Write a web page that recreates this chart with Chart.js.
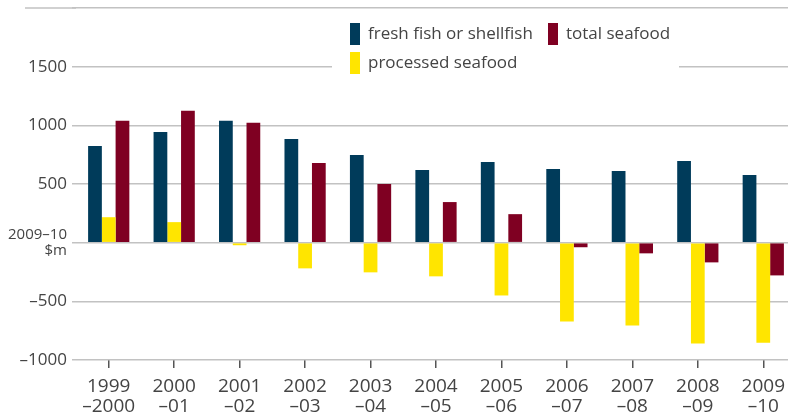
<!DOCTYPE html>
<html>
<head>
<meta charset="utf-8">
<script src="https://cdn.jsdelivr.net/npm/chart.js@4.4.1/dist/chart.umd.min.js"></script>
<style>
html,body{margin:0;padding:0;background:#fff;overflow:hidden}
canvas{display:block}
</style>
</head>
<body>
<canvas id="c" width="796" height="415"></canvas>
<script>
// financial years, two-line labels
const years = [
  ["1999","–2000"],["2000","–01"],["2001","–02"],["2002","–03"],["2003","–04"],
  ["2004","–05"],["2005","–06"],["2006","–07"],["2007","–08"],["2008","–09"],["2009","–10"]
];
// 2009–10 $m
const fresh = [824, 944, 1038, 884, 748, 619, 688, 628, 611, 696, 576];
const processed = [217, 175, -22, -219, -253, -287, -450, -672, -706, -860, -852];
const total = [1038, 1124, 1021, 679, 500, 346, 243, -39, -91, -168, -279];
const yTicks = [-1000, -500, 0, 500, 1000, 1500, 2000];
const yUnit = ["2009–10", "$m"];

const FONT = "'Open Sans', 'Noto Sans', sans-serif";
const TEXT = "#444";
const GRID = "#c2c2c2";

const extras = {
  id: "extras",
  beforeDatasetsDraw(chart){
    const ctx = chart.ctx, y = chart.scales.y;
    ctx.save();
    // legend box hides the 1500 line
    ctx.fillStyle = "#fff";
    ctx.fillRect(332, 14, 347, 68);
    // top rule runs further left
    const yt = y.getPixelForValue(2000);
    ctx.strokeStyle = GRID;
    ctx.lineWidth = 1.5;
    ctx.beginPath();
    ctx.moveTo(25, yt);
    ctx.lineTo(chart.chartArea.left, yt);
    ctx.stroke();
    ctx.restore();
  },
  afterDraw(chart){
    const ctx = chart.ctx, ds = chart.data.datasets;
    const items = [[0, 350, 34], [2, 548, 34], [1, 350, 63]];
    ctx.save();
    ctx.font = "17px " + FONT;
    ctx.textBaseline = "middle";
    for (const [i, x, y] of items) {
      ctx.fillStyle = ds[i].backgroundColor;
      ctx.fillRect(x, y - 11, 10, 22);
      ctx.fillStyle = TEXT;
      ctx.fillText(ds[i].label, x + 18, y);
    }
    ctx.restore();
  }
};

new Chart(document.getElementById("c"), {
  type: "bar",
  data: {
    labels: years,
    datasets: [
      { label: "fresh fish or shellfish", data: fresh, backgroundColor: "#003b5a" },
      { label: "processed seafood", data: processed, backgroundColor: "#ffe500" },
      { label: "total seafood", data: total, backgroundColor: "#7f0022" }
    ]
  },
  options: {
    responsive: false,
    devicePixelRatio: 1,
    animation: false,
    layout: { padding: { top: 8, left: 0, right: 0, bottom: 0 } },
    datasets: { bar: { categoryPercentage: 0.63, barPercentage: 1, borderWidth: 0 } },
    plugins: { legend: { display: false }, tooltip: { enabled: false } },
    scales: {
      x: {
        afterFit: s => { s.height = 55; s.paddingLeft = 0; s.paddingRight = 0; },
        border: { display: false },
        grid: { offset: false, drawOnChartArea: false, drawTicks: true, tickLength: 8, color: "#555", lineWidth: 1.5 },
        ticks: { color: TEXT, font: { family: FONT, size: 19, lineHeight: 1.05 }, padding: 9, maxRotation: 0, autoSkip: false }
      },
      y: {
        min: -1000,
        max: 2000,
        afterFit: s => { s.width = 76; s.paddingTop = 0; s.paddingBottom = 0; },
        afterBuildTicks: s => { s.ticks = yTicks.map(v => ({ value: v })); },
        border: { display: false },
        grid: { color: GRID, lineWidth: 1.5, drawTicks: true, tickLength: 4 },
        ticks: {
          color: TEXT,
          padding: 5,
          font: c => (c.tick && c.tick.value === 0)
            ? { family: FONT, size: 15, lineHeight: 1.1 }
            : { family: FONT, size: 17 },
          callback: v => {
            if (v === 2000) return "";
            if (v === 0) return yUnit;
            return v < 0 ? "–" + Math.abs(v) : String(v);
          }
        }
      }
    }
  },
  plugins: [extras]
});
</script>
</body>
</html>
